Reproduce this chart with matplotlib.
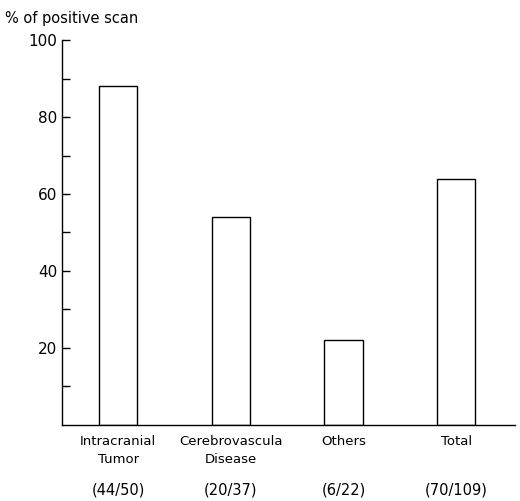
import matplotlib.pyplot as plt
import numpy as np

categories = ['Intracranial\nTumor', 'Cerebrovascula\nDisease', 'Others', 'Total']
counts = ['(44/50)', '(20/37)', '(6/22)', '(70/109)']
percent = [88, 54, 22, 64]
yticks = [20, 40, 60, 80, 100]

fig = plt.figure(figsize=(5.2, 5.01), dpi=100)
ax = fig.add_axes([0.119, 0.152, 0.871, 0.768])

x = np.arange(len(categories))
ax.bar(x, percent, width=0.34, facecolor='white', edgecolor='black', linewidth=1.0)

ax.set_xlim(-0.5, 3.52)
ax.set_ylim(0, 100)
ax.spines['top'].set_visible(False)
ax.spines['right'].set_visible(False)
ax.spines['left'].set_linewidth(1.0)
ax.spines['bottom'].set_linewidth(1.0)

ax.set_yticks(yticks)
ax.set_yticks(np.arange(10, 100, 20), minor=True)
ax.tick_params(axis='y', which='both', direction='in', length=6, width=1.0, labelsize=11)
ax.tick_params(axis='x', length=0, labelsize=9.5, pad=7)
ax.set_xticks(x)
ax.set_xticklabels(categories, linespacing=1.5)

for xi, c in zip(x, counts):
    ax.text(xi, -0.17, c, transform=ax.get_xaxis_transform(), ha='center', va='center', fontsize=10.5)

fig.text(0.01, 0.963, '% of positive scan', fontsize=10.5, ha='left', va='center')

fig.savefig('out.png', dpi=100)
